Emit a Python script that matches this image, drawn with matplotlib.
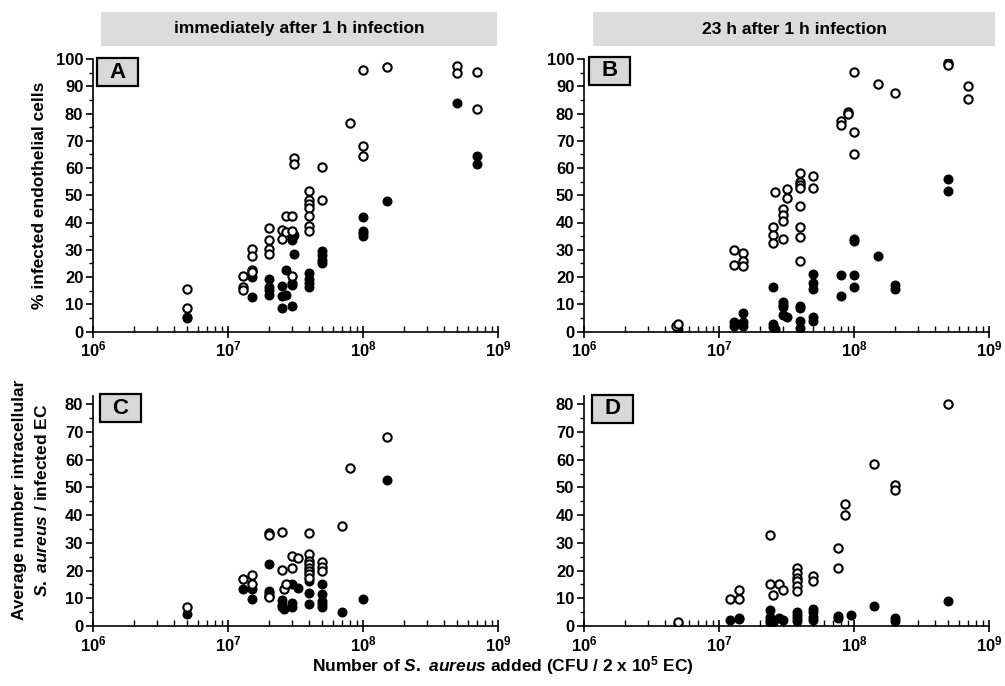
import matplotlib.pyplot as plt
from matplotlib.ticker import MultipleLocator, LogLocator, NullFormatter
from matplotlib.patches import Rectangle

# panel A: % infected EC, immediately after 1 h infection
a_open_x = [5e6, 5e6, 1.3e7, 1.3e7, 1.3e7, 1.5e7, 1.5e7, 1.5e7, 1.5e7,
            2e7, 2e7, 2e7, 2e7, 2.5e7, 2.5e7, 2.7e7, 2.7e7,
            3e7, 3e7, 3e7, 3.1e7, 3.1e7,
            4e7, 4e7, 4e7, 4e7, 4e7, 4e7, 4e7, 5e7, 5e7, 8e7,
            1e8, 1e8, 1e8, 1.5e8, 5e8, 5e8, 7e8, 7e8]
a_open_y = [15.6, 8.5, 20.5, 16.5, 15.3, 30.3, 27.6, 22.7, 21.8,
            38, 33.7, 30.3, 28.4, 37.4, 33.9, 42.5, 36.4,
            42.5, 36.8, 20.5, 63.5, 61.5,
            51.5, 48.4, 46.9, 45.3, 42.5, 38.6, 36.8, 60.3, 48.4, 76.5,
            96, 68, 64.3, 97, 97.4, 94.7, 95.3, 81.7]
a_fill_x = [5e6, 5e6, 1.5e7, 1.5e7, 2e7, 2e7, 2e7, 2e7, 2.5e7, 2.5e7, 2.5e7,
            2.7e7, 2.7e7, 3e7, 3e7, 3e7, 3e7, 3e7, 3.1e7, 3.1e7,
            4e7, 4e7, 4e7, 4e7, 5e7, 5e7, 5e7, 5e7,
            1e8, 1e8, 1e8, 1e8, 1.5e8, 5e8, 7e8, 7e8]
a_fill_y = [5.5, 5, 20, 12.7, 19.2, 16.3, 15.1, 13.5, 12.9, 8.8, 16.8,
            22.7, 13.5, 34.3, 33.7, 17.8, 17.2, 9.4, 35.5, 28.4,
            21.4, 19.2, 17.8, 16.3, 29.4, 28.2, 26.3, 25.1,
            41.9, 37, 36.2, 34.9, 47.8, 83.9, 64.3, 61.6]

# panel B: % infected EC, 23 h after 1 h infection
b_open_x = [4.8e6, 5e6, 1.3e7, 1.3e7, 1.5e7, 1.5e7, 1.5e7,
            2.5e7, 2.5e7, 2.5e7, 2.6e7, 3e7, 3e7, 3e7, 3e7, 3.2e7, 3.2e7,
            4e7, 4e7, 4e7, 4e7, 4e7, 4e7, 4e7, 4e7, 5e7, 5e7,
            8e7, 8e7, 9e7, 9e7, 1e8, 1e8, 1e8, 1.5e8, 2e8, 5e8, 5e8, 7e8, 7e8]
b_open_y = [2.2, 2.8, 30, 24.3, 28.8, 25.9, 23.9,
            38.4, 35.3, 32.6, 51.2, 45.1, 42.9, 40.6, 34.1, 52.3, 49.1,
            58.3, 54.7, 53.8, 52.6, 46, 38.4, 34.7, 25.7, 57, 52.5,
            77.2, 75.7, 80.5, 80, 95.3, 73.2, 65.1, 91, 87.7, 98.7, 97.8, 90.1, 85.3]
b_fill_x = [5e6, 1.3e7, 1.3e7, 1.5e7, 1.5e7, 1.5e7, 2.5e7, 2.5e7, 2.5e7, 2.6e7,
            3e7, 3e7, 3e7, 3e7, 3.2e7, 4e7, 4e7, 4e7, 4e7,
            5e7, 5e7, 5e7, 5e7, 5e7, 8e7, 8e7, 1e8, 1e8, 1e8, 1e8,
            1.5e8, 2e8, 2e8, 5e8, 5e8]
b_fill_y = [1, 3.4, 2.2, 6.7, 3.4, 2, 16.5, 2.8, 1.6, 1,
            10.8, 9.6, 8.9, 6.1, 5.3, 9.3, 8.6, 3.8, 1.3,
            21.2, 17.9, 15.7, 5.3, 4, 20.6, 13.2, 34.1, 33.2, 20.6, 16.5,
            27.6, 17.2, 15.7, 56.1, 51.6]

# panel C: bacteria per infected EC, immediately after 1 h infection
c_open_x = [5e6, 1.3e7, 1.5e7, 1.5e7, 2e7, 2e7, 2e7, 2e7, 2.5e7, 2.5e7,
            2.6e7, 2.7e7, 3e7, 3e7, 3.3e7,
            4e7, 4e7, 4e7, 4e7, 4e7, 4e7, 4e7, 4e7, 5e7, 5e7, 5e7,
            7e7, 8e7, 1.5e8]
c_open_y = [6.7, 17.1, 18.4, 15, 33.5, 33, 11, 10.5, 34, 20.1,
            13.5, 15, 25.2, 20.8, 24.7,
            33.5, 25.9, 23.5, 22.3, 21.1, 19.9, 18.6, 17.4, 23.1, 21.3, 19.9,
            36.2, 57.1, 68.3]
c_fill_x = [5e6, 1.3e7, 1.5e7, 1.5e7, 2e7, 2e7, 2e7, 2.5e7, 2.5e7, 2.5e7,
            2.6e7, 3e7, 3e7, 3e7, 3.3e7, 4e7, 4e7, 4e7,
            5e7, 5e7, 5e7, 5e7, 5e7, 7e7, 1e8, 1.5e8]
c_fill_y = [4.4, 13.2, 13.2, 9.9, 22.5, 12.5, 11.9, 9.5, 7.7, 6.8,
            6.1, 15.3, 8.3, 6.8, 13.8, 16.2, 11.9, 7.9,
            15, 11.7, 8.9, 7.9, 6.8, 4.9, 9.6, 52.6]

# panel D: bacteria per infected EC, 23 h after 1 h infection
d_open_x = [5e6, 1.2e7, 1.4e7, 1.4e7, 2.4e7, 2.4e7, 2.5e7, 2.8e7, 3e7,
            3.8e7, 3.8e7, 3.8e7, 3.8e7, 3.8e7, 3.8e7, 5e7, 5e7,
            7.6e7, 7.6e7, 8.6e7, 8.6e7, 1.4e8, 2e8, 2e8, 5e8]
d_open_y = [1.6, 9.7, 13.1, 9.7, 32.7, 15.2, 11.2, 15.3, 13.1,
            20.8, 19, 17.2, 16.2, 14.6, 12.5, 18, 16.2,
            28.1, 20.9, 44, 39.9, 58.6, 51, 49, 80]
d_fill_x = [5e6, 1.2e7, 1.4e7, 1.4e7, 2.4e7, 2.4e7, 2.4e7, 2.4e7, 2.5e7, 2.8e7, 3e7,
            3.8e7, 3.8e7, 3.8e7, 3.8e7, 5e7, 5e7, 5e7, 5e7,
            7.6e7, 7.6e7, 9.5e7, 1.4e8, 2e8, 2e8, 5e8]
d_fill_y = [0.7, 2.2, 3, 2.4, 5.6, 3.4, 2.2, 1.3, 1.3, 2.8, 2.2,
            4.9, 4, 3, 1.9, 6.1, 4.9, 3.4, 2.2,
            3.6, 2.8, 4, 7.1, 2.8, 1.9, 9.2]

headers = ["immediately after 1 h infection", "23 h after 1 h infection"]
letters = ["A", "B", "C", "D"]

plt.rcParams['font.family'] = ['Liberation Sans', 'DejaVu Sans']
plt.rcParams['font.weight'] = 'bold'
plt.rcParams['mathtext.fontset'] = 'custom'
plt.rcParams['mathtext.rm'] = 'Liberation Sans:bold'
plt.rcParams['mathtext.it'] = 'Liberation Sans:italic:bold'
plt.rcParams['mathtext.bf'] = 'Liberation Sans:bold'

W, H = 1005, 686
fig = plt.figure(figsize=(W / 100, H / 100), dpi=100)


def px_axes(x0, x1, y_top, y_bot):
    return fig.add_axes([x0 / W, 1 - y_bot / H, (x1 - x0) / W, (y_bot - y_top) / H])


def px_box(x0, y0, w, h, txt):
    fig.patches.append(Rectangle((x0 / W, 1 - (y0 + h) / H), w / W, h / H,
                                 transform=fig.transFigure, fc='#d8d8d8', ec='black',
                                 lw=1.6, zorder=5))
    fig.text((x0 + w / 2) / W, 1 - (y0 + h / 2) / H, txt, ha='center', va='center',
             fontsize=16, fontweight='bold', zorder=6)


axA = px_axes(93, 498, 59, 331.5)
axB = px_axes(584, 989, 59, 331.5)
axC = px_axes(93, 498, 396, 626)
axD = px_axes(584, 989, 396, 626)

panels = [
    (axA, a_open_x, a_open_y, a_fill_x, a_fill_y, 100),
    (axB, b_open_x, b_open_y, b_fill_x, b_fill_y, 100),
    (axC, c_open_x, c_open_y, c_fill_x, c_fill_y, 83),
    (axD, d_open_x, d_open_y, d_fill_x, d_fill_y, 83),
]

for (ax, ox, oy, fx, fy, ymax) in panels:
    ax.plot(fx, fy, 'o', ms=6, mfc='black', mec='black', mew=1.2, ls='none', zorder=3)
    ax.plot(ox, oy, 'o', ms=6, mfc='white', mec='black', mew=1.5, ls='none', zorder=4)
    ax.set_xscale('log')
    ax.set_xlim(1e6, 1e9)
    ax.set_ylim(0, ymax)
    ax.spines['top'].set_visible(False)
    ax.spines['right'].set_visible(False)
    ax.spines['left'].set_linewidth(1.2)
    ax.spines['bottom'].set_linewidth(1.2)
    ax.yaxis.set_major_locator(MultipleLocator(10))
    ax.yaxis.set_minor_locator(MultipleLocator(5))
    ax.xaxis.set_major_locator(LogLocator(base=10, numticks=10))
    ax.xaxis.set_minor_locator(LogLocator(base=10, subs=range(2, 10), numticks=10))
    ax.xaxis.set_minor_formatter(NullFormatter())
    ax.tick_params(axis='y', which='major', direction='out', length=5, width=1.2, labelsize=12, pad=2)
    ax.tick_params(axis='y', which='minor', direction='out', length=3, width=1)
    ax.tick_params(axis='x', which='major', direction='inout', length=8, width=1.2, labelsize=12, pad=2)
    ax.tick_params(axis='x', which='minor', direction='in', length=4, width=1)
    for lab in ax.get_xticklabels() + ax.get_yticklabels():
        lab.set_fontweight('bold')

# panel letters
for (x0, y0), let in zip([(97, 58), (589, 57), (100, 394), (592, 395)], letters):
    px_box(x0, y0, 41, 28, let)

# header boxes
for (x0, x1), txt in zip([(101, 497), (593, 995)], headers):
    fig.patches.append(Rectangle((x0 / W, 1 - 46 / H), (x1 - x0) / W, 34 / H,
                                 transform=fig.transFigure, fc='#dcdcdc', ec='none'))
    fig.text((x0 + x1) / 2 / W, 1 - 29 / H, txt, ha='center', va='center',
             fontsize=12.5, fontweight='bold')

fig.text(40 / W, 1 - 195 / H, "% infected endothelial cells", rotation=90,
         ha='center', va='center', fontsize=12.5, fontweight='bold')
fig.text(20 / W, 1 - 500 / H, "Average number intracellular", rotation=90,
         ha='center', va='center', fontsize=12.5, fontweight='bold')
fig.text(42 / W, 1 - 500 / H, r"$\mathit{S.\ aureus}$ / infected EC", rotation=90,
         ha='center', va='center', fontsize=12.5, fontweight='bold')
fig.text(503 / W, 1 - 666 / H, r"Number of $\mathit{S.\ aureus}$ added (CFU / 2 x 10$^5$ EC)",
         ha='center', va='center', fontsize=12.5, fontweight='bold')

plt.savefig("out.png", dpi=100)
